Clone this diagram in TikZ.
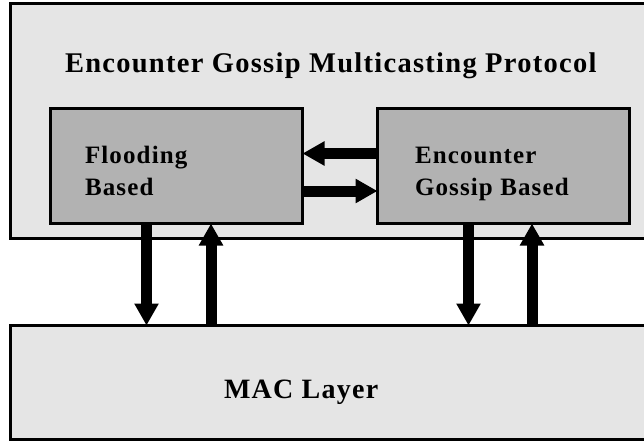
\documentclass[tikz,border=0pt]{standalone}
\usepackage{fontspec}
\setmainfont{Liberation Serif}[LetterSpace=4.5]
\usetikzlibrary{arrows.meta}
\definecolor{layerfill}{gray}{0.898}
\definecolor{blockfill}{gray}{0.698}
\tikzset{
  layer/.style={draw=black, line width=3pt, fill=layerfill, anchor=north west,
    outer sep=0pt, inner sep=0pt},
  block/.style={draw=black, line width=3pt, fill=blockfill, anchor=north west,
    outer sep=0pt, inner sep=0pt, minimum width=252pt, minimum height=115pt},
  label/.style={anchor=base west, inner sep=0pt, outer sep=0pt, font=\bfseries},
  blocktext/.style={label, font=\bfseries\fontsize{25}{30}\selectfont},
  bigarrow/.style={line width=11pt, -{Triangle[width=23pt,length=22pt]}},
}
\begin{document}
\begin{tikzpicture}[x=1pt, y=-1pt]
  \useasboundingbox (0,0) rectangle (644,441);
  \fill[white] (0,0) rectangle (644,441);
  \clip (0,0) rectangle (644,441);

  % protocol layer (runs off the right edge)
  \node[layer, minimum width=660pt, minimum height=235pt] (proto) at (10.5,3.5) {};
  \node[label, font=\bfseries\fontsize{28.5}{33}\selectfont] (title) at (65,73)
    {Encounter Gossip Multicasting Protocol};

  % the two protocol blocks
  \node[block] (flood) at (50.5,108.5) {};
  \node[block, minimum width=251.5pt] (gossip) at (377.5,108.5) {};
  \node[blocktext] (fl1) at (85,163) {Flooding};
  \node[blocktext] (fl2) at (85,195) {Based};
  \node[blocktext] (eg1) at (415,163) {Encounter};
  \node[blocktext] (eg2) at (415,195) {Gossip Based};

  % MAC layer
  \node[layer, minimum width=660pt, minimum height=114pt] (mac) at (10.5,325.5) {};
  \node[label, font=\bfseries\fontsize{28}{33}\selectfont] (mactext) at (224,398) {MAC Layer};

  % columns and rows of the connectors
  \coordinate (hA) at (0,153.5);
  \coordinate (hB) at (0,191);
  \coordinate (vA) at (146.5,0);
  \coordinate (vB) at (211,0);
  \coordinate (vC) at (468.5,0);
  \coordinate (vD) at (532,0);

  % block to block
  \draw[bigarrow] (gossip.west |- hA) -- (flood.east |- hA);
  \draw[bigarrow] (flood.east |- hB) -- (gossip.west |- hB);

  % blocks to and from the MAC layer
  \draw[bigarrow] (vA |- flood.south) -- (vA |- mac.north);
  \draw[bigarrow] (vB |- mac.north) -- (vB |- flood.south);
  \draw[bigarrow] (vC |- gossip.south) -- (vC |- mac.north);
  \draw[bigarrow] (vD |- mac.north) -- (vD |- gossip.south);
\end{tikzpicture}
\end{document}
